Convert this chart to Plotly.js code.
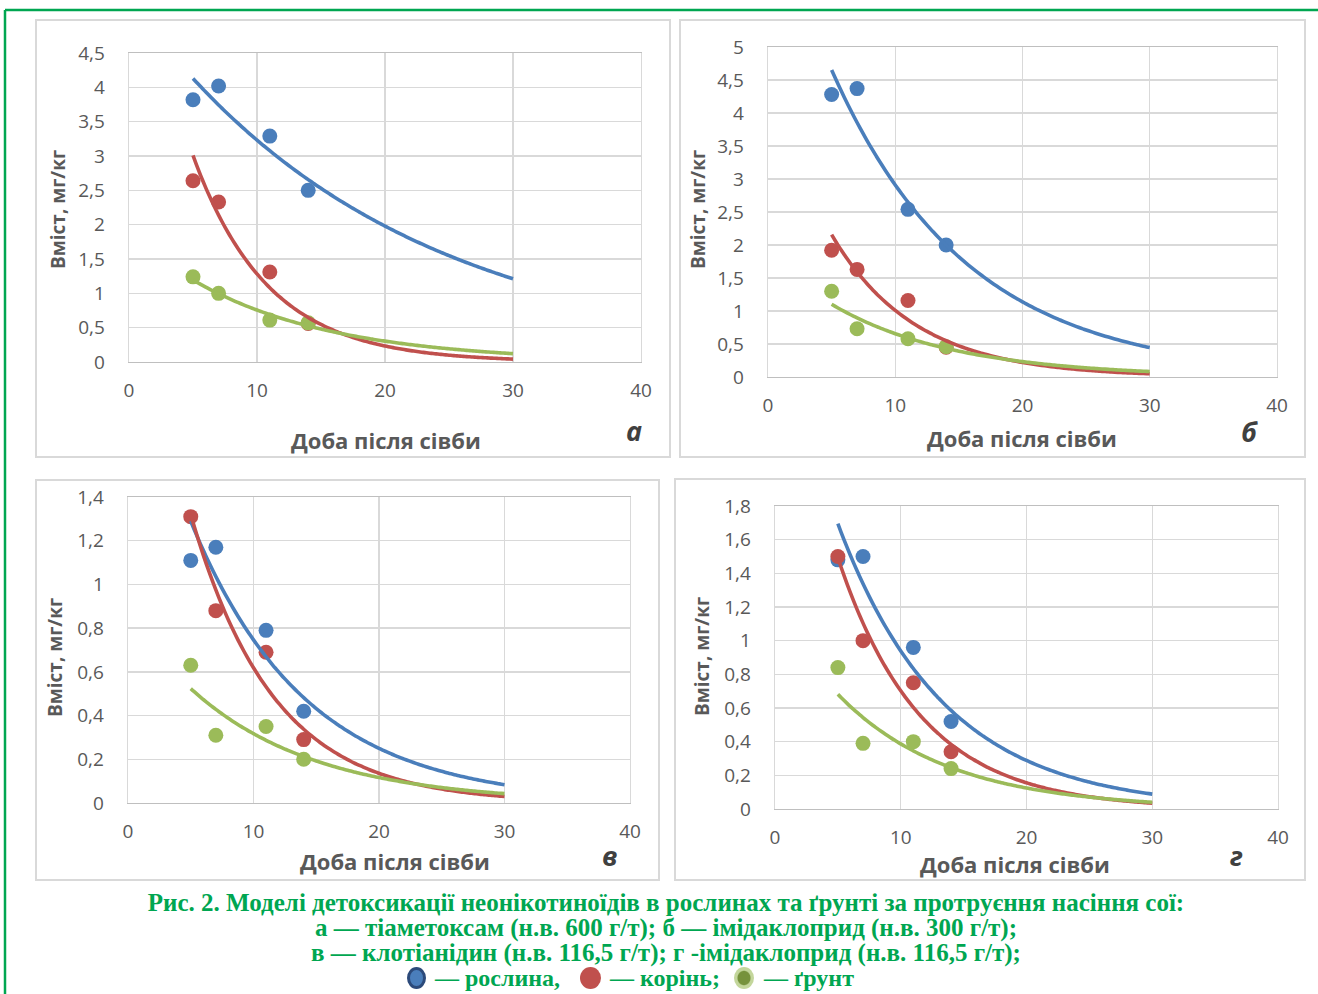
<!DOCTYPE html>
<html>
<head>
<meta charset="utf-8">
<script src="https://cdn.plot.ly/plotly-3.0.1.min.js"></script>
<style>
  html, body { margin: 0; padding: 0; background: #ffffff; overflow: hidden; }
  #wrap { position: relative; width: 1318px; height: 994px; }
  #chart { position: absolute; left: 0; top: 0; width: 1318px; height: 994px; }
  .cap { position: absolute; font-family: 'Liberation Serif', 'DejaVu Serif', serif; font-weight: bold;
         color: #00a651; white-space: nowrap; }
  #capLines { left: 0; top: 889.5px; width: 1318px; padding-left: 14px; box-sizing: border-box;
              text-align: center; font-size: 25px; line-height: 25px; }
  .legTxt { top: 965.5px; font-size: 24px; line-height: 25px; }
  .dot { position: absolute; box-sizing: border-box; border-radius: 50%; }
</style>
</head>
<body>
<div id="wrap">
  <div id="chart"></div>
  <div id="capLines" class="cap"></div>
  <div id="legend"></div>
</div>
<script>
// ---------------- DATA ----------------
const days = [5, 7, 11, 14];           // доба після сівби
const trendEnd = 30;                   // trendline forecast end (Excel trendline)

// а — тіаметоксам
const a_plant = [3.82, 4.02, 3.29, 2.50];
const a_root  = [2.64, 2.33, 1.31, 0.56];
const a_soil  = [1.24, 1.00, 0.61, 0.57];
// б — імідаклоприд (300 г/т)
const b_plant = [4.28, 4.37, 2.54, 2.00];
const b_root  = [1.92, 1.63, 1.16, 0.45];
const b_soil  = [1.30, 0.73, 0.58, 0.46];
// в — клотіанідин
const v_plant = [1.11, 1.17, 0.79, 0.42];
const v_root  = [1.31, 0.88, 0.69, 0.29];
const v_soil  = [0.63, 0.31, 0.35, 0.20];
// г — імідаклоприд (116,5 г/т)
const g_plant = [1.48, 1.50, 0.96, 0.52];
const g_root  = [1.50, 1.00, 0.75, 0.34];
const g_soil  = [0.84, 0.39, 0.40, 0.24];

const panelLetters = ['а', 'б', 'в', 'г'];
const yMax  = [4.5, 5, 1.4, 1.8];
const yStep = [0.5, 0.5, 0.2, 0.2];
const xTitle = 'Доба після сівби';
const yTitle = 'Вміст, мг/кг';
const captionLines = [
  'Рис. 2. Моделі детоксикації неонікотиноїдів в рослинах та ґрунті за протруєння насіння сої:',
  'а — тіаметоксам (н.в. 600 г/т); б — імідаклоприд (н.в. 300 г/т);',
  'в — клотіанідин (н.в. 116,5 г/т); г -імідаклоприд (н.в. 116,5 г/т);'
];
const legendLabels = ['— рослина,', '— корінь;', '— ґрунт'];

// ---------------- STYLE ----------------
const W = 1318, H = 994;
const C_BLUE = '#4a7ebb', C_RED = '#c0504d', C_GREEN = '#9bbb59';
const GRID = '#d9d9d9';
const TXT = '#595959';
const CAP = '#00a651';
const FONT = 'Open Sans, Noto Sans, DejaVu Sans, sans-serif';

const px = x => x / W;
const py = y => 1 - y / H;

// Excel-style exponential trendline (least squares on ln y)
function expFit(xs, ys) {
  const n = xs.length;
  const ly = ys.map(v => Math.log(v));
  const mx = xs.reduce((s, v) => s + v, 0) / n;
  const my = ly.reduce((s, v) => s + v, 0) / n;
  let sxy = 0, sxx = 0;
  for (let i = 0; i < n; i++) { sxy += (xs[i] - mx) * (ly[i] - my); sxx += (xs[i] - mx) ** 2; }
  const b = sxy / sxx;
  const lna = my - b * mx;
  const tx = [], ty = [];
  for (let x = xs[0]; x <= trendEnd + 1e-9; x += 0.25) { tx.push(x); ty.push(Math.exp(lna + b * x)); }
  return { x: tx, y: ty };
}

// pixel geometry of each panel: plot area [left, right, top, bottom], outer box
const panels = [
  { plot: [129, 641, 53, 362],  box: [36, 670, 20, 457],  yT: [58, 210],  xT: [386, 440], let: [634, 430], series: [a_plant, a_root, a_soil] },
  { plot: [768, 1277, 47, 377], box: [680, 1305, 20, 457], yT: [698, 210], xT: [1022, 438], let: [1249, 432], series: [b_plant, b_root, b_soil] },
  { plot: [128, 630, 497, 803], box: [36, 659, 480, 880],  yT: [55, 658],  xT: [395, 861], let: [609, 855], series: [v_plant, v_root, v_soil] },
  { plot: [775, 1278, 506, 809], box: [675, 1305, 479, 880], yT: [702, 657], xT: [1015, 864], let: [1236, 855], series: [g_plant, g_root, g_soil] }
];
const colors = [C_BLUE, C_RED, C_GREEN];
const names = ['рослина', 'корінь', 'ґрунт'];

const traces = [];
const layout = {
  width: W, height: H,
  margin: { l: 0, r: 0, t: 0, b: 0 },
  paper_bgcolor: '#ffffff', plot_bgcolor: '#ffffff',
  showlegend: false,
  separators: ', ',
  font: { family: FONT, color: TXT },
  shapes: [], annotations: []
};

panels.forEach((p, i) => {
  const k = i === 0 ? '' : String(i + 1);
  const xa = 'x' + k, ya = 'y' + k;
  // markers
  p.series.forEach((s, j) => {
    traces.push({ type: 'scatter', mode: 'markers', x: days, y: s, xaxis: xa, yaxis: ya,
      name: names[j], marker: { color: colors[j], size: 15 }, hoverinfo: 'x+y' });
  });
  // trendlines
  p.series.forEach((s, j) => {
    const t = expFit(days, s);
    traces.push({ type: 'scatter', mode: 'lines', x: t.x, y: t.y, xaxis: xa, yaxis: ya,
      line: { color: colors[j], width: 3.6, shape: 'spline' }, hoverinfo: 'skip' });
  });
  const axCommon = {
    showgrid: true, gridcolor: GRID, gridwidth: 1.4, zeroline: false,
    showline: true, mirror: true, linecolor: GRID, linewidth: 1.4,
    ticks: '', tickfont: { family: FONT, size: 19, color: TXT }
  };
  layout['xaxis' + k] = Object.assign({}, axCommon, {
    domain: [px(p.plot[0]), px(p.plot[1])], anchor: ya,
    range: [0, 40], tick0: 0, dtick: 10, ticklabelstandoff: 11, linecolor: '#bfbfbf'
  });
  layout['yaxis' + k] = Object.assign({}, axCommon, {
    domain: [py(p.plot[3]), py(p.plot[2])], anchor: xa,
    range: [0, yMax[i]], tick0: 0, dtick: yStep[i], ticklabelstandoff: 19
  });
  // outer chart box
  layout.shapes.push({ type: 'rect', xref: 'paper', yref: 'paper', layer: 'below',
    x0: px(p.box[0]), x1: px(p.box[1]), y0: py(p.box[3]), y1: py(p.box[2]),
    line: { color: GRID, width: 2 }, fillcolor: 'rgba(0,0,0,0)' });
  // axis titles & panel letter
  layout.annotations.push({ xref: 'paper', yref: 'paper', x: px(p.yT[0]), y: py(p.yT[1]),
    text: '<b>' + yTitle + '</b>', textangle: -90, showarrow: false,
    font: { family: FONT, size: 19, color: TXT }, xanchor: 'center', yanchor: 'middle' });
  layout.annotations.push({ xref: 'paper', yref: 'paper', x: px(p.xT[0]), y: py(p.xT[1]),
    text: '<b>' + xTitle + '</b>', showarrow: false,
    font: { family: FONT, size: 22, color: TXT }, xanchor: 'center', yanchor: 'middle' });
  layout.annotations.push({ xref: 'paper', yref: 'paper', x: px(p.let[0]), y: py(p.let[1]),
    text: '<b><i>' + panelLetters[i] + '</i></b>', showarrow: false,
    font: { family: FONT, size: 27, color: '#404040' }, xanchor: 'center', yanchor: 'middle' });
});

// green frame
layout.shapes.push({ type: 'line', xref: 'paper', yref: 'paper', x0: px(5), x1: px(5), y0: 0, y1: py(10),
  line: { color: CAP, width: 2.5 } });
layout.shapes.push({ type: 'line', xref: 'paper', yref: 'paper', x0: px(5), x1: 1, y0: py(10), y1: py(10),
  line: { color: CAP, width: 2.5 } });

Plotly.newPlot('chart', traces, layout, { displayModeBar: false, staticPlot: true });

// ---------------- CAPTION (HTML text) ----------------
const capDiv = document.getElementById('capLines');
captionLines.forEach(t => {
  const d = document.createElement('div');
  d.textContent = t;
  capDiv.appendChild(d);
});
const leg = document.getElementById('legend');
const legTextX = [435, 610, 764];
const dots = [
  { x: 406.5, w: 19, bg: C_BLUE, border: '3px solid #2c4a7a' },
  { x: 579.5, w: 21, bg: C_RED, border: 'none' },
  { x: 734,   w: 20, bg: 'radial-gradient(ellipse at center, #76923c 0 42%, #c3d69b 50%)', border: 'none' }
];
legendLabels.forEach((t, i) => {
  const dot = document.createElement('div');
  dot.className = 'dot';
  dot.style.left = dots[i].x + 'px';
  dot.style.top = '967px';
  dot.style.width = dots[i].w + 'px';
  dot.style.height = '22px';
  dot.style.background = dots[i].bg;
  dot.style.border = dots[i].border;
  leg.appendChild(dot);
  const s = document.createElement('div');
  s.className = 'cap legTxt';
  s.style.left = legTextX[i] + 'px';
  s.textContent = t;
  leg.appendChild(s);
});
</script>
</body>
</html>
